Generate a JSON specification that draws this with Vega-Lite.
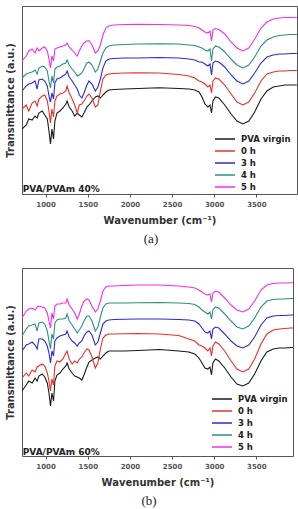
{
  "$schema": "https://vega.github.io/schema/vega-lite/v6.json",
  "padding": {"left": 4, "top": 5, "right": 0, "bottom": 0},
  "spacing": 20,
  "config": {
    "view": {"stroke": "#555", "strokeWidth": 1},
    "font": "DejaVu Sans",
    "axisX": {"grid": false, "domain": false, "tickSize": 3, "tickColor": "#555", "labelFontSize": 7, "labelFontWeight": "bold", "labelColor": "#555", "labelPadding": 3, "titleFontSize": 10, "titleFontWeight": "bold", "titleColor": "#333", "titlePadding": 8, "format": "d", "values": [1000, 1500, 2000, 2500, 3000, 3500]},
    "axisY": {"grid": false, "domain": false, "ticks": false, "labels": false, "titleFontSize": 10, "titleFontWeight": "bold", "titleColor": "#333", "titlePadding": 7},
    "legend": {"orient": "none", "title": null, "symbolType": "M-2,0H2", "symbolSize": 100, "symbolStrokeWidth": 1.5, "labelFontSize": 8.5, "labelFontWeight": "bold", "labelColor": "#222", "labelOffset": 10, "rowPadding": 1, "padding": 0},
    "title": {"orient": "bottom", "font": "Liberation Serif", "fontSize": 13, "fontWeight": "normal", "color": "#222", "frame": "bounds", "offset": 8}
  },
  "resolve": {"scale": {"color": "independent"}, "legend": {"color": "independent"}},
  "datasets": {
    "a": [
      {"w":720,"PVA virgin":72,"0 h":92,"3 h":110,"4 h":123,"5 h":140},
      {"w":770,"PVA virgin":76,"0 h":96,"3 h":115,"4 h":127,"5 h":145},
      {"w":800,"PVA virgin":82,"0 h":90,"3 h":117,"4 h":128,"5 h":150},
      {"w":840,"PVA virgin":81,"0 h":98,"3 h":118,"4 h":129,"5 h":152},
      {"w":875,"PVA virgin":85,"0 h":100,"3 h":120,"4 h":131,"5 h":148},
      {"w":900,"PVA virgin":83,"0 h":95,"3 h":112,"4 h":127,"5 h":153},
      {"w":920,"PVA virgin":88,"0 h":102,"3 h":121,"4 h":133,"5 h":150},
      {"w":960,"PVA virgin":90,"0 h":105,"3 h":122,"4 h":135,"5 h":153},
      {"w":990,"PVA virgin":86,"0 h":106,"3 h":120,"4 h":134,"5 h":154},
      {"w":1020,"PVA virgin":82,"0 h":100,"3 h":115,"4 h":130,"5 h":150},
      {"w":1040,"PVA virgin":70,"0 h":90,"3 h":105,"4 h":120,"5 h":142},
      {"w":1058,"PVA virgin":57,"0 h":78,"3 h":99,"4 h":113,"5 h":133},
      {"w":1075,"PVA virgin":72,"0 h":92,"3 h":108,"4 h":125,"5 h":145},
      {"w":1094,"PVA virgin":62,"0 h":84,"3 h":102,"4 h":118,"5 h":140},
      {"w":1110,"PVA virgin":80,"0 h":100,"3 h":118,"4 h":132,"5 h":152},
      {"w":1135,"PVA virgin":88,"0 h":105,"3 h":122,"4 h":134,"5 h":153},
      {"w":1170,"PVA virgin":90,"0 h":107,"3 h":123,"4 h":135,"5 h":154},
      {"w":1205,"PVA virgin":93,"0 h":108,"3 h":125,"4 h":137,"5 h":155},
      {"w":1240,"PVA virgin":97,"0 h":110,"3 h":127,"4 h":138,"5 h":156},
      {"w":1255,"PVA virgin":100,"0 h":115,"3 h":130,"4 h":141,"5 h":158},
      {"w":1280,"PVA virgin":94,"0 h":108,"3 h":124,"4 h":136,"5 h":154},
      {"w":1315,"PVA virgin":90,"0 h":102,"3 h":120,"4 h":132,"5 h":151},
      {"w":1345,"PVA virgin":85,"0 h":96,"3 h":116,"4 h":129,"5 h":148},
      {"w":1375,"PVA virgin":88,"0 h":88,"3 h":112,"4 h":125,"5 h":145},
      {"w":1400,"PVA virgin":86,"0 h":96,"3 h":106,"4 h":126,"5 h":150},
      {"w":1430,"PVA virgin":84,"0 h":97,"3 h":103,"4 h":128,"5 h":155},
      {"w":1455,"PVA virgin":88,"0 h":100,"3 h":108,"4 h":132,"5 h":158},
      {"w":1490,"PVA virgin":94,"0 h":105,"3 h":116,"4 h":138,"5 h":160},
      {"w":1515,"PVA virgin":96,"0 h":107,"3 h":120,"4 h":139,"5 h":160.5},
      {"w":1550,"PVA virgin":100,"0 h":103,"3 h":117,"4 h":136,"5 h":156},
      {"w":1590,"PVA virgin":104,"0 h":94,"3 h":110,"4 h":129,"5 h":148},
      {"w":1620,"PVA virgin":105,"0 h":96,"3 h":114,"4 h":132,"5 h":150},
      {"w":1650,"PVA virgin":103,"0 h":110,"3 h":122,"4 h":140,"5 h":156},
      {"w":1680,"PVA virgin":106,"0 h":122,"3 h":133,"4 h":148,"5 h":166},
      {"w":1715,"PVA virgin":109,"0 h":126,"3 h":140,"4 h":153,"5 h":173},
      {"w":1750,"PVA virgin":111,"0 h":127,"3 h":142,"4 h":155,"5 h":175},
      {"w":1810,"PVA virgin":111.5,"0 h":127.5,"3 h":142.5,"4 h":156,"5 h":176},
      {"w":1930,"PVA virgin":112,"0 h":128,"3 h":143,"4 h":156.5,"5 h":176.5},
      {"w":2100,"PVA virgin":112.5,"0 h":128.3,"3 h":143,"4 h":157,"5 h":176.7},
      {"w":2350,"PVA virgin":113.3,"0 h":128,"3 h":143.5,"4 h":157.3,"5 h":176.5},
      {"w":2580,"PVA virgin":112.5,"0 h":126.5,"3 h":143,"4 h":157,"5 h":176},
      {"w":2700,"PVA virgin":112,"0 h":125,"3 h":142,"4 h":156,"5 h":175.5},
      {"w":2770,"PVA virgin":111,"0 h":123,"3 h":141,"4 h":155.5,"5 h":174.5},
      {"w":2820,"PVA virgin":109,"0 h":120,"3 h":139,"4 h":154,"5 h":173},
      {"w":2855,"PVA virgin":104,"0 h":119,"3 h":139,"4 h":153,"5 h":171},
      {"w":2890,"PVA virgin":97,"0 h":117,"3 h":137,"4 h":151,"5 h":169},
      {"w":2925,"PVA virgin":94,"0 h":114,"3 h":135,"4 h":150,"5 h":168},
      {"w":2950,"PVA virgin":96,"0 h":116,"3 h":137,"4 h":152,"5 h":170},
      {"w":2968,"PVA virgin":88,"0 h":108,"3 h":126,"4 h":140,"5 h":160},
      {"w":2985,"PVA virgin":100,"0 h":120,"3 h":138,"4 h":152,"5 h":171},
      {"w":3015,"PVA virgin":104,"0 h":123,"3 h":140,"4 h":155,"5 h":172.5},
      {"w":3055,"PVA virgin":103,"0 h":122,"3 h":139,"4 h":154,"5 h":171.5},
      {"w":3125,"PVA virgin":96,"0 h":116,"3 h":134,"4 h":149,"5 h":167},
      {"w":3200,"PVA virgin":87,"0 h":107,"3 h":126,"4 h":142,"5 h":159},
      {"w":3270,"PVA virgin":80,"0 h":99,"3 h":120,"4 h":136,"5 h":153},
      {"w":3340,"PVA virgin":77,"0 h":96,"3 h":117,"4 h":133,"5 h":150},
      {"w":3410,"PVA virgin":80,"0 h":99,"3 h":120,"4 h":136,"5 h":153},
      {"w":3480,"PVA virgin":89,"0 h":108,"3 h":128,"4 h":144,"5 h":162},
      {"w":3555,"PVA virgin":102,"0 h":120,"3 h":138,"4 h":155,"5 h":173},
      {"w":3625,"PVA virgin":110,"0 h":127,"3 h":144,"4 h":161,"5 h":179},
      {"w":3700,"PVA virgin":114,"0 h":129,"3 h":146,"4 h":164,"5 h":182},
      {"w":3770,"PVA virgin":115,"0 h":130,"3 h":147,"4 h":165.5,"5 h":183},
      {"w":3840,"PVA virgin":116,"0 h":130,"3 h":147,"4 h":166,"5 h":183.5},
      {"w":3910,"PVA virgin":116,"0 h":130.5,"3 h":147.5,"4 h":166.5,"5 h":183.5},
      {"w":3980,"PVA virgin":116,"0 h":130.5,"3 h":147.5,"4 h":166.5,"5 h":183.3}
    ],
    "b": [
      {"w":720,"PVA virgin":70,"0 h":83,"3 h":110,"4 h":125,"5 h":143},
      {"w":770,"PVA virgin":76,"0 h":88,"3 h":116,"4 h":132,"5 h":150},
      {"w":800,"PVA virgin":80,"0 h":85,"3 h":117,"4 h":135,"5 h":152},
      {"w":840,"PVA virgin":78,"0 h":91,"3 h":119,"4 h":136,"5 h":153},
      {"w":875,"PVA virgin":83,"0 h":89,"3 h":116,"4 h":137,"5 h":151},
      {"w":900,"PVA virgin":80,"0 h":94,"3 h":112,"4 h":130,"5 h":154},
      {"w":920,"PVA virgin":85,"0 h":95,"3 h":122,"4 h":138,"5 h":155},
      {"w":960,"PVA virgin":87,"0 h":97,"3 h":122,"4 h":139,"5 h":154},
      {"w":990,"PVA virgin":84,"0 h":95,"3 h":120,"4 h":137,"5 h":153},
      {"w":1020,"PVA virgin":78,"0 h":88,"3 h":115,"4 h":130,"5 h":148},
      {"w":1040,"PVA virgin":68,"0 h":80,"3 h":108,"4 h":120,"5 h":140},
      {"w":1058,"PVA virgin":55,"0 h":70,"3 h":98,"4 h":112,"5 h":133},
      {"w":1075,"PVA virgin":68,"0 h":82,"3 h":110,"4 h":127,"5 h":148},
      {"w":1094,"PVA virgin":60,"0 h":76,"3 h":105,"4 h":122,"5 h":142},
      {"w":1110,"PVA virgin":80,"0 h":95,"3 h":120,"4 h":138,"5 h":155},
      {"w":1135,"PVA virgin":86,"0 h":100,"3 h":123,"4 h":141,"5 h":157},
      {"w":1170,"PVA virgin":88,"0 h":99,"3 h":125,"4 h":142,"5 h":157},
      {"w":1205,"PVA virgin":92,"0 h":102,"3 h":126,"4 h":142,"5 h":158},
      {"w":1240,"PVA virgin":95,"0 h":108,"3 h":127,"4 h":143,"5 h":158},
      {"w":1255,"PVA virgin":98,"0 h":110,"3 h":130,"4 h":147,"5 h":162},
      {"w":1280,"PVA virgin":92,"0 h":102,"3 h":124,"4 h":140,"5 h":156},
      {"w":1315,"PVA virgin":88,"0 h":97,"3 h":120,"4 h":136,"5 h":152},
      {"w":1345,"PVA virgin":85,"0 h":100,"3 h":118,"4 h":132,"5 h":148},
      {"w":1375,"PVA virgin":84,"0 h":98,"3 h":115,"4 h":128,"5 h":142},
      {"w":1400,"PVA virgin":83,"0 h":102,"3 h":118,"4 h":131,"5 h":147},
      {"w":1430,"PVA virgin":81,"0 h":104,"3 h":120,"4 h":135,"5 h":155},
      {"w":1455,"PVA virgin":86,"0 h":108,"3 h":125,"4 h":140,"5 h":160},
      {"w":1490,"PVA virgin":94,"0 h":112,"3 h":129,"4 h":145,"5 h":162},
      {"w":1515,"PVA virgin":99,"0 h":111,"3 h":130,"4 h":145,"5 h":161},
      {"w":1550,"PVA virgin":101,"0 h":104,"3 h":126,"4 h":140,"5 h":155},
      {"w":1590,"PVA virgin":103,"0 h":93,"3 h":116,"4 h":130,"5 h":149},
      {"w":1620,"PVA virgin":104,"0 h":98,"3 h":119,"4 h":134,"5 h":152},
      {"w":1650,"PVA virgin":102,"0 h":112,"3 h":128,"4 h":144,"5 h":160},
      {"w":1680,"PVA virgin":105,"0 h":123,"3 h":137,"4 h":153,"5 h":170},
      {"w":1715,"PVA virgin":108,"0 h":126,"3 h":140,"4 h":157,"5 h":174},
      {"w":1750,"PVA virgin":110,"0 h":127,"3 h":141,"4 h":158,"5 h":175},
      {"w":1810,"PVA virgin":110,"0 h":127,"3 h":141.5,"4 h":158,"5 h":175},
      {"w":1930,"PVA virgin":110,"0 h":127.3,"3 h":141.7,"4 h":158,"5 h":175.5},
      {"w":2100,"PVA virgin":110.5,"0 h":127.5,"3 h":142,"4 h":158.3,"5 h":176},
      {"w":2350,"PVA virgin":111.5,"0 h":127,"3 h":142,"4 h":158.5,"5 h":176},
      {"w":2580,"PVA virgin":110,"0 h":125.5,"3 h":141.5,"4 h":158,"5 h":175},
      {"w":2700,"PVA virgin":109,"0 h":122,"3 h":141,"4 h":157.5,"5 h":174},
      {"w":2770,"PVA virgin":107,"0 h":120,"3 h":140,"4 h":156.5,"5 h":173},
      {"w":2820,"PVA virgin":103,"0 h":116,"3 h":137,"4 h":154,"5 h":171},
      {"w":2855,"PVA virgin":98,"0 h":115,"3 h":133,"4 h":151,"5 h":169},
      {"w":2890,"PVA virgin":93,"0 h":113,"3 h":129,"4 h":149,"5 h":167},
      {"w":2925,"PVA virgin":92,"0 h":110,"3 h":128,"4 h":147,"5 h":166},
      {"w":2950,"PVA virgin":94,"0 h":113,"3 h":130,"4 h":149,"5 h":167},
      {"w":2968,"PVA virgin":86,"0 h":105,"3 h":122,"4 h":142,"5 h":159},
      {"w":2985,"PVA virgin":98,"0 h":115,"3 h":132,"4 h":151,"5 h":168},
      {"w":3015,"PVA virgin":102,"0 h":119,"3 h":134,"4 h":154,"5 h":170},
      {"w":3055,"PVA virgin":100,"0 h":117,"3 h":133,"4 h":153,"5 h":169},
      {"w":3125,"PVA virgin":93,"0 h":110,"3 h":127,"4 h":147,"5 h":163},
      {"w":3200,"PVA virgin":84,"0 h":100,"3 h":120,"4 h":140,"5 h":156},
      {"w":3270,"PVA virgin":77,"0 h":92,"3 h":115,"4 h":134,"5 h":151},
      {"w":3340,"PVA virgin":75,"0 h":89,"3 h":113,"4 h":132,"5 h":149},
      {"w":3410,"PVA virgin":78,"0 h":92,"3 h":116,"4 h":135,"5 h":152},
      {"w":3480,"PVA virgin":87,"0 h":102,"3 h":124,"4 h":143,"5 h":160},
      {"w":3555,"PVA virgin":100,"0 h":117,"3 h":136,"4 h":154,"5 h":171},
      {"w":3625,"PVA virgin":109,"0 h":127,"3 h":143,"4 h":160,"5 h":176},
      {"w":3700,"PVA virgin":112,"0 h":131,"3 h":145,"4 h":161.5,"5 h":177.5},
      {"w":3770,"PVA virgin":113,"0 h":132,"3 h":145.5,"4 h":162,"5 h":178},
      {"w":3840,"PVA virgin":113,"0 h":132.5,"3 h":145.5,"4 h":162,"5 h":178},
      {"w":3910,"PVA virgin":113.5,"0 h":133,"3 h":146,"4 h":162.5,"5 h":178.3},
      {"w":3980,"PVA virgin":113.5,"0 h":133,"3 h":146,"4 h":162.5,"5 h":178.3}
    ]
  },
  "vconcat": [
    {
      "width": 275,
      "height": 188,
      "title": {"text": "(a)"},
      "layer": [
        {
          "data": {"name": "a"},
          "transform": [{"fold": ["PVA virgin", "0 h", "3 h", "4 h", "5 h"], "as": ["series", "t"]}],
          "mark": {"type": "line", "strokeWidth": 1.1, "clip": true},
          "encoding": {
            "x": {"field": "w", "type": "quantitative", "title": "Wavenumber (cm⁻¹)", "scale": {"domain": [720, 3982], "nice": false, "zero": false}},
            "y": {"field": "t", "type": "quantitative", "title": "Transmittance (a.u.)", "scale": {"domain": [7, 195], "nice": false, "zero": false}},
            "color": {"field": "series", "type": "nominal", "scale": {"domain": ["PVA virgin", "0 h", "3 h", "4 h", "5 h"], "range": ["#1a1a1a", "#e8302a", "#2b2bd6", "#2a9080", "#f22ef2"]}, "legend": {"legendX": 197, "legendY": 127}}
          }
        },
        {
          "data": {"values": [{"w": 728, "t": 12, "label": "PVA/PVAm 40%"}]},
          "mark": {"type": "text", "align": "left", "baseline": "middle", "fontWeight": "bold", "fontSize": 9, "color": "#222"},
          "encoding": {
            "x": {"field": "w", "type": "quantitative"},
            "y": {"field": "t", "type": "quantitative"},
            "text": {"field": "label", "type": "nominal"}
          }
        }
      ]
    },
    {
      "width": 271,
      "height": 188,
      "title": {"text": "(b)"},
      "layer": [
        {
          "data": {"name": "b"},
          "transform": [{"fold": ["PVA virgin", "0 h", "3 h", "4 h", "5 h"], "as": ["series", "t"]}],
          "mark": {"type": "line", "strokeWidth": 1.1, "clip": true},
          "encoding": {
            "x": {"field": "w", "type": "quantitative", "title": "Wavenumber (cm⁻¹)", "scale": {"domain": [720, 3935], "nice": false, "zero": false}},
            "y": {"field": "t", "type": "quantitative", "title": "Transmittance (a.u.)", "scale": {"domain": [5, 193], "nice": false, "zero": false}},
            "color": {"field": "series", "type": "nominal", "scale": {"domain": ["PVA virgin", "0 h", "3 h", "4 h", "5 h"], "range": ["#1a1a1a", "#e8302a", "#2b2bd6", "#2a9080", "#f22ef2"]}, "legend": {"legendX": 194, "legendY": 125}}
          }
        },
        {
          "data": {"values": [{"w": 728, "t": 9.5, "label": "PVA/PVAm 60%"}]},
          "mark": {"type": "text", "align": "left", "baseline": "middle", "fontWeight": "bold", "fontSize": 9, "color": "#222"},
          "encoding": {
            "x": {"field": "w", "type": "quantitative"},
            "y": {"field": "t", "type": "quantitative"},
            "text": {"field": "label", "type": "nominal"}
          }
        }
      ]
    }
  ]
}
